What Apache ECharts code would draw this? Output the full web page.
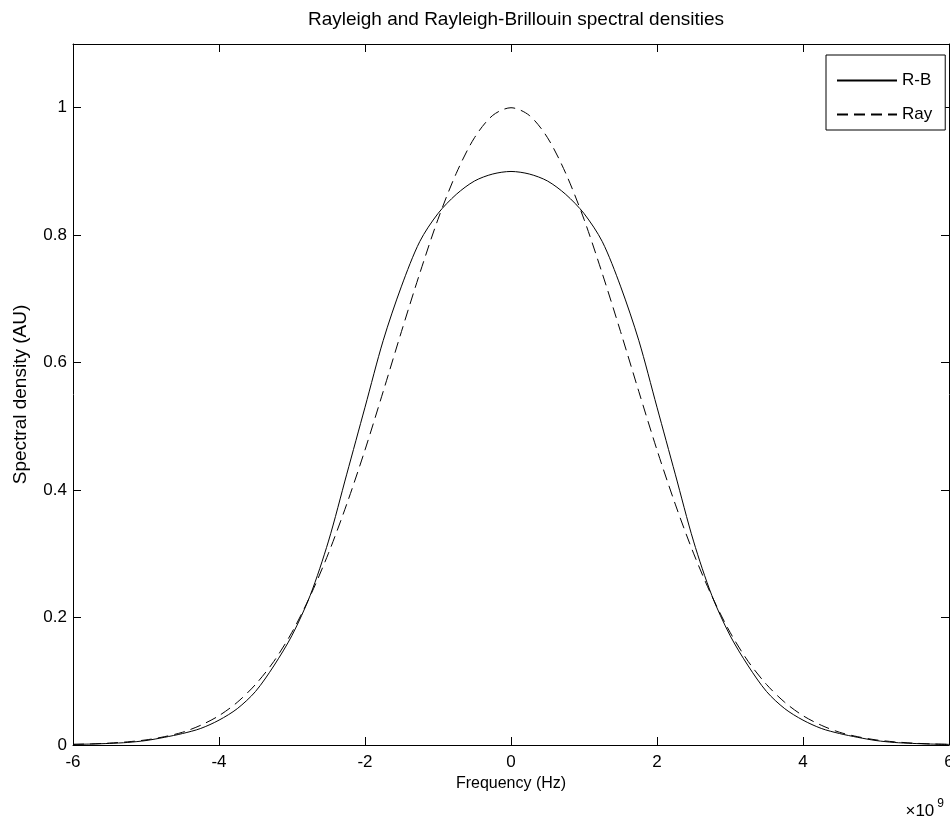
<!DOCTYPE html>
<html>
<head>
<meta charset="utf-8">
<script src="https://cdn.jsdelivr.net/npm/echarts@6/dist/echarts.min.js"></script>
<style>
html,body{margin:0;padding:0;background:#fff;}
#chart{width:950px;height:821px;}
</style>
</head>
<body>
<div id="chart"></div>
<script>
// Frequency samples (units of 1e9 Hz)
const freq = [-6,-5.75,-5.5,-5.25,-5,-4.75,-4.5,-4.25,-4,-3.75,-3.5,-3.25,-3,-2.75,-2.5,-2.25,-2,-1.75,-1.5,-1.25,-1,-0.75,-0.5,-0.25,0,
  0.25,0.5,0.75,1,1.25,1.5,1.75,2,2.25,2.5,2.75,3,3.25,3.5,3.75,4,4.25,4.5,4.75,5,5.25,5.5,5.75,6];
// Rayleigh-Brillouin spectral density (solid)
const rbValues = [0.001,0.0015,0.0025,0.004,0.007,0.012,0.018,0.026,0.039,0.057,0.084,0.124,0.172,0.235,0.320,0.425,0.530,0.635,0.720,0.790,0.834,0.864,0.885,0.896,0.900,
  0.896,0.885,0.864,0.834,0.790,0.720,0.635,0.530,0.425,0.320,0.235,0.172,0.124,0.084,0.057,0.039,0.026,0.018,0.012,0.007,0.004,0.0025,0.0015,0.001];
// Rayleigh spectral density (dashed)
const rayValues = [0.001,0.0017,0.003,0.005,0.008,0.013,0.020,0.031,0.046,0.067,0.095,0.131,0.177,0.234,0.301,0.378,0.463,0.555,0.649,0.740,0.825,0.897,0.953,0.988,1.000,
  0.988,0.953,0.897,0.825,0.740,0.649,0.555,0.463,0.378,0.301,0.234,0.177,0.131,0.095,0.067,0.046,0.031,0.020,0.013,0.008,0.005,0.003,0.0017,0.001];
const seriesNames = ['R-B','Ray'];
const xTicks = {min:-6, max:6, interval:2};
const yTicks = {min:0, max:1.1, interval:0.2};

const FONT = 'Liberation Sans, Arial, Helvetica, sans-serif';
const FS = 17;
const AX = '#000';

const chart = echarts.init(document.getElementById('chart'), null, {renderer:'canvas'});

function xAx(pos, showLabel){
  return {
    type:'value', position:pos, min:xTicks.min, max:xTicks.max, interval:xTicks.interval,
    axisLine:{show:true, onZero:false, lineStyle:{color:AX, width:1}},
    axisTick:{show:true, inside:true, length:8, lineStyle:{color:AX, width:1}},
    splitLine:{show:false},
    axisLabel:{show:showLabel, color:'#000', fontSize:FS, fontFamily:FONT, margin:9, hideOverlap:false},
    name: showLabel ? 'Frequency (Hz)' : '',
    nameLocation:'middle', nameGap:27,
    nameTextStyle:{color:'#000', fontSize:16, fontFamily:FONT}
  };
}
function yAx(pos, showLabel){
  return {
    type:'value', position:pos, min:yTicks.min, max:yTicks.max, interval:yTicks.interval,
    axisLine:{show:true, onZero:false, lineStyle:{color:AX, width:1}},
    axisTick:{show:true, inside:true, length:8, lineStyle:{color:AX, width:1}},
    splitLine:{show:false},
    axisLabel:{show:showLabel, showMaxLabel:false, color:'#000', fontSize:FS, fontFamily:FONT, margin:6},
    name: showLabel ? 'Spectral density (AU)' : '',
    nameLocation:'middle', nameGap:43, nameRotate:90,
    nameTextStyle:{color:'#000', fontSize:19, fontFamily:FONT}
  };
}

chart.setOption({
  animation:false,
  backgroundColor:'#fff',
  title:{
    text:'Rayleigh and Rayleigh-Brillouin spectral densities',
    left:511, top:5, textAlign:'center',
    textStyle:{color:'#000', fontSize:19, fontWeight:'normal', fontFamily:FONT}
  },
  grid:{left:73, right:1, top:44, bottom:76, containLabel:false, outerBoundsMode:'none'},
  xAxis:[xAx('bottom', true), xAx('top', false)],
  yAxis:[yAx('left', true), yAx('right', false)],
  legend:{
    data:seriesNames,
    orient:'vertical', left:826, top:55,
    itemWidth:60, itemHeight:14, itemGap:17,
    padding:[17,13,7,10],
    borderColor:'#000', borderWidth:1, backgroundColor:'#fff',
    itemStyle:{opacity:0},
    textStyle:{color:'#000', fontSize:FS, fontFamily:FONT}
  },
  graphic:[{
    type:'text', right:6, bottom:1,
    style:{
      text:'×10{s|9}', font:FS + 'px ' + FONT, fill:'#000',
      rich:{s:{fontSize:12, fontFamily:FONT, verticalAlign:'top', padding:[0,0,16,3]}}
    }
  }],
  series:[
    {name:seriesNames[0], type:'line', xAxisIndex:0, yAxisIndex:0, symbol:'none', smooth:0.3,
     data:freq.map((f,i)=>[f, rbValues[i]]),
     lineStyle:{color:'#000', width:1, type:'solid'}, itemStyle:{color:'#000'}},
    {name:seriesNames[1], type:'line', xAxisIndex:0, yAxisIndex:0, symbol:'none', smooth:0.3,
     data:freq.map((f,i)=>[f, rayValues[i]]),
     lineStyle:{color:'#000', width:1, type:[11,6]}, itemStyle:{color:'#000'}}
  ]
});
</script>
</body>
</html>
